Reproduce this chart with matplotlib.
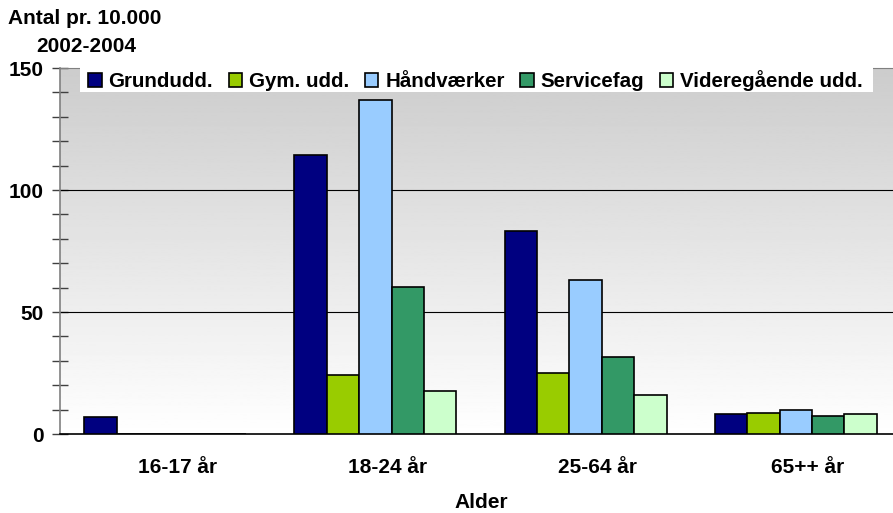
import matplotlib.pyplot as plt
import matplotlib.transforms as mtransforms
from matplotlib.patches import Rectangle
import numpy as np

plt.rcParams['font.family'] = ['Liberation Sans', 'DejaVu Sans']

# Data
categories = ['16-17 år', '18-24 år', '25-64 år', '65++ år']
series = ['Grundudd.', 'Gym. udd.', 'Håndværker', 'Servicefag', 'Videregående udd.']
grundudd = [6.8, 114.3, 83.3, 8.0]
gym = [0, 24.0, 24.8, 8.8]
haandvaerker = [0, 137.0, 63.2, 10.0]
servicefag = [0, 60.3, 31.7, 7.2]
videregaaende = [0, 17.8, 15.8, 8.0]
colors = ['#000080', '#99cc00', '#99ccff', '#339966', '#ccffcc']

values = [grundudd, gym, haandvaerker, servicefag, videregaaende]

W, H = 893, 513
fig = plt.figure(figsize=(W / 100, H / 100), dpi=100, facecolor='white')
# plot area runs slightly past the right edge of the picture
ax = fig.add_axes([60 / W, 1 - 434 / H, 841 / W, 366 / H])

# grey-to-white gradient behind the bars
grad = np.linspace(1.0, 0.8, 256).reshape(-1, 1)
ax.imshow(grad, extent=[-0.5, 3.5, 0, 150], origin='lower', aspect='auto',
          cmap='gray', vmin=0, vmax=1, zorder=0)

x = np.arange(len(categories))
w = 0.154
for i, (name, vals, c) in enumerate(zip(series, values, colors)):
    ax.bar(x + (i - 2) * w, vals, width=w, color=c, edgecolor='black',
           linewidth=1.2, label=name, zorder=3)

ax.set_xlim(-0.5, 3.5)
ax.set_ylim(0, 150)
for yv in (50, 100):
    ax.axhline(yv, color='black', linewidth=0.8, zorder=2)

ax.set_yticks([0, 50, 100, 150])
ax.set_yticks(np.arange(0, 151, 10), minor=True)
ax.tick_params(axis='y', which='both', direction='inout', length=11, width=1,
               color='#404040', labelsize=15, pad=6)
ax.tick_params(axis='x', length=0, labelsize=15, pad=17)
ax.set_xticks(x)
ax.set_xticklabels(categories, fontweight='bold')
offset = mtransforms.ScaledTranslation(12 / 100, 0, fig.dpi_scale_trans)
for lab in ax.get_xticklabels():
    lab.set_transform(lab.get_transform() + offset)
for lab in ax.get_yticklabels():
    lab.set_fontweight('bold')

ax.spines['left'].set_color('#808080')
ax.spines['left'].set_linewidth(1.2)
ax.spines['bottom'].set_color('black')
ax.spines['bottom'].set_linewidth(1.2)
ax.spines['top'].set_color('#808080')
ax.spines['right'].set_visible(False)

fig.text(481 / W, 1 - 503 / H, 'Alder', fontsize=15, fontweight='bold',
         ha='center', va='center')
fig.text(8 / W, 1 - 18 / H, 'Antal pr. 10.000', fontsize=15,
         fontweight='bold', va='center', ha='left')
fig.text(36 / W, 1 - 46 / H, '2002-2004', fontsize=15,
         fontweight='bold', va='center', ha='left')

# white legend box, drawn inside the axes so the legend stays on top
ax.add_patch(Rectangle((80 / W, 1 - 92 / H), 793 / W, 25 / H,
                       transform=fig.transFigure, facecolor='white',
                       edgecolor='none', zorder=4, clip_on=False))
leg = ax.legend(loc='center left', bbox_to_anchor=(88 / W, 1 - 80.5 / H),
                bbox_transform=fig.transFigure, ncol=5, frameon=False,
                borderpad=0, borderaxespad=0, columnspacing=0.76,
                handlelength=0.66, handleheight=0.66, handletextpad=0.33,
                prop={'size': 14.8, 'weight': 'bold'})
leg.set_zorder(5)

fig.savefig('out.png', dpi=100)
